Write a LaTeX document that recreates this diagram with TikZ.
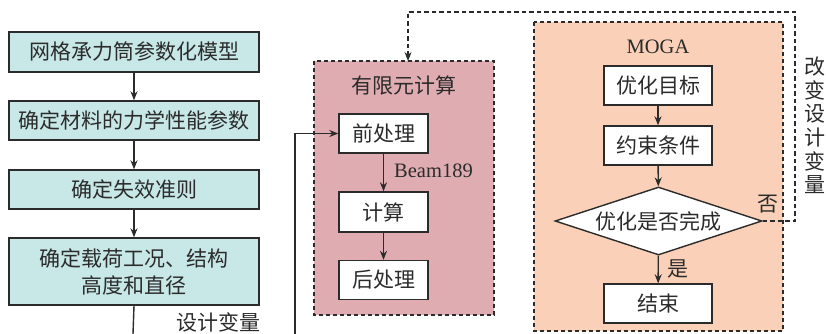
\documentclass[tikz,border=0pt]{standalone}
\usepackage{fontspec}
\setmainfont{Liberation Serif}
\newfontfamily\cjk{Noto Sans CJK SC}
\usetikzlibrary{arrows.meta,shapes.geometric}
\definecolor{leftfill}{HTML}{C8E7E7}
\definecolor{fefill}{HTML}{DFADB1}
\definecolor{mogafill}{HTML}{FAD1B8}
\definecolor{edge}{HTML}{2B2B2B}
\tikzset{
  zh/.style={font=\cjk\fontsize{21}{27}\selectfont, text=edge},
  lbox/.style={zh, draw=edge, line width=1.4pt, fill=leftfill, minimum width=250pt, inner sep=0pt, align=center},
  wbox/.style={zh, draw=edge, line width=1.4pt, fill=white, inner sep=0pt, minimum height=39pt},
  group/.style={draw=edge, line width=1.2pt, dash pattern=on 4pt off 3pt},
  conn/.style={draw=edge, line width=1.4pt, -{Stealth[length=9pt,width=7pt]}},
  plain/.style={draw=edge, line width=1.4pt},
  fb/.style={draw=edge, line width=1.3pt, dash pattern=on 4.5pt off 3pt, -{Stealth[length=9pt,width=7pt]}},
  lat/.style={font=\fontsize{20.5}{24}\selectfont, text=edge, inner sep=0pt},
}
\begin{document}
\begin{tikzpicture}[x=1pt,y=-1pt]
\useasboundingbox (0,0) rectangle (826,333);
% group backgrounds
\draw[group, fill=mogafill] (534,22) rectangle (783,331);
\draw[group, fill=fefill] (314,61) rectangle (494,315);
\node[lat] (mogat) at (658,47) {MOGA};
\node[zh, inner sep=0pt] (fet) at (404,85) {有限元计算};
\coordinate (fetop) at (408,61);
% left column
\node[lbox, minimum height=40pt] (b1) at (134,52) {网格承力筒参数化模型};
\node[lbox, minimum height=39pt] (b2) at (134,120.5) {确定材料的力学性能参数};
\node[lbox, minimum height=39pt] (b3) at (134,189.5) {确定失效准则};
\node[lbox, minimum height=67pt] (b4) at (134,271.5) {确定载荷工况、结构\\高度和直径};
\draw[conn] (b1) -- (b2);
\draw[conn] (b2) -- (b3);
\draw[conn] (b3) -- (b4);
\coordinate (leftend) at (133,334);
\draw[plain] (b4.south) -- (leftend);
\node[zh, inner sep=0pt] (dv) at (218,322) {设计变量};
% FE column
\node[wbox, minimum width=89pt] (pre) at (383.5,133.5) {前处理};
\node[wbox, minimum width=89pt, minimum height=40pt] (calc) at (383.5,212) {计算};
\node[wbox, minimum width=89pt] (post) at (383.5,280) {后处理};
\draw[conn] (pre) -- (calc);
\draw[conn] (calc) -- (post);
\node[lat, anchor=west] (beam) at (394,171) {Beam189};
\coordinate (feedin) at (295,334);
\draw[conn] (feedin) |- (pre.west);
% MOGA column
\node[wbox, minimum width=108pt] (obj) at (658,85.5) {优化目标};
\node[wbox, minimum width=108pt] (cons) at (658,145.5) {约束条件};
\node[zh, diamond, shape aspect=3, draw=edge, line width=1.4pt, fill=white, inner sep=0pt, minimum width=207pt, minimum height=68pt] (dec) at (658.5,221) {优化是否完成};
\node[wbox, minimum width=108pt] (end) at (658,303.5) {结束};
\draw[conn] (obj) -- (cons);
\draw[conn] (cons) -- (dec);
\draw[conn] (dec) -- (end);
\node[zh, inner sep=0pt] (yes) at (678,269) {是};
\node[zh, inner sep=0pt] (no) at (768,204) {否};
% feedback
\coordinate (fbr) at (795,221);
\coordinate (fbtop) at (795,12);
\coordinate (fbl) at (408,12);
\draw[fb] (dec.east) -- (fbr) -- (fbtop) -- (fbl) -- (fetop);
\node[zh, inner sep=0pt, align=center, font=\cjk\fontsize{21}{23.5}\selectfont] (chg) at (815,125.5) {改\\变\\设\\计\\变\\量};
\end{tikzpicture}
\end{document}
